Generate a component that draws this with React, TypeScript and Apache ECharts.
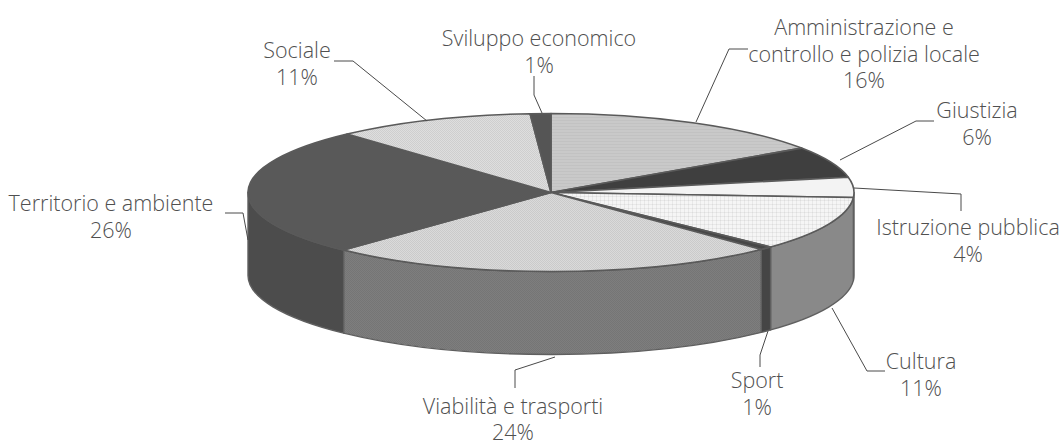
import React, { useEffect, useRef } from "react";
import * as echarts from "echarts";

const categories = [
  "Amministrazione e\ncontrollo e polizia locale",
  "Giustizia",
  "Istruzione pubblica",
  "Cultura",
  "Sport",
  "Viabilità e trasporti",
  "Territorio e ambiente",
  "Sociale",
  "Sviluppo economico",
];
const shares = [15.5, 6.4, 4.1, 11.1, 0.7, 24.2, 26.25, 10.65, 1.1];

// styles, one per slice
const topColors = ["#c9c9c9", "#3f3f3f", "#f3f3f3", "#f5f5f5", "#474747", "#dadada", "#595959", "#dedede", "#555555"];
const sideColors = ["#999999", "#333333", "#8a8a8a", "#898989", "#454545", "#7e7e7e", "#4c4c4c", "#999999", "#444444"];
const topPatterns = ["hlines", "", "", "grid", "", "dither", "", "dither", ""];
const sidePatterns = ["", "", "", "", "", "dither", "", "", ""];

// label layout, one per slice: centre of the text block, then its leader line
const labelCentres = [
  [864, 53], [977, 123], [968, 240], [921, 374], [757, 393],
  [513, 418.5], [111, 216], [297, 63], [539, 51],
];
const leaders = [
  [[696, 122], [729, 49], [748, 49]],
  [[840, 160], [916, 121], [934, 121]],
  [[854, 188], [961, 194], [961, 211]],
  [[832, 308], [867, 371], [885, 371]],
  [[768, 331], [760, 355], [760, 367]],
  [[555, 357], [515, 370], [515, 388]],
  [[248, 240], [243, 213], [225, 213]],
  [[427, 121], [353, 61], [334, 61]],
  [[542, 113], [534, 95], [534, 76]],
];

const CX = 551;
const CY = 192.5;
const RX = 303;
const RY = 79;
const DEPTH = 83;
const LINE_STEP = 26.5;
const TEXT_FONT = "'Open Sans'";

function makePattern(kind: string, base: string) {
  const size = kind === "dither" ? 2 : kind === "grid" ? 4 : 3;
  const c = document.createElement("canvas");
  c.width = size;
  c.height = size;
  const g = c.getContext("2d")!;
  g.fillStyle = base;
  g.fillRect(0, 0, size, size);
  if (kind === "dither") {
    g.fillStyle = "rgba(0,0,0,0.07)";
    g.fillRect(0, 0, 1, 1);
    g.fillRect(1, 1, 1, 1);
  } else if (kind === "grid") {
    g.fillStyle = "rgba(0,0,0,0.05)";
    g.fillRect(0, 0, size, 1);
    g.fillRect(0, 0, 1, size);
  } else {
    g.fillStyle = "rgba(0,0,0,0.03)";
    g.fillRect(0, 0, size, 1);
  }
  return { image: c, repeat: "repeat" };
}

function paint(kind: string, base: string): any {
  return kind ? makePattern(kind, base) : base;
}

function rim(a: number, dy = 0) {
  return [CX + RX * Math.sin(a), CY - RY * Math.cos(a) + dy];
}

function topPath(a0: number, a1: number) {
  const p0 = rim(a0);
  const p1 = rim(a1);
  const large = a1 - a0 > Math.PI ? 1 : 0;
  return `M${CX} ${CY}L${p0[0]} ${p0[1]}A${RX} ${RY} 0 ${large} 1 ${p1[0]} ${p1[1]}Z`;
}

function sidePath(a0: number, a1: number) {
  const p0 = rim(a0);
  const p1 = rim(a1);
  const q0 = rim(a0, DEPTH);
  const q1 = rim(a1, DEPTH);
  return (
    `M${p0[0]} ${p0[1]}A${RX} ${RY} 0 0 1 ${p1[0]} ${p1[1]}` +
    `L${q1[0]} ${q1[1]}A${RX} ${RY} 0 0 0 ${q0[0]} ${q0[1]}Z`
  );
}

export default function App() {
  const ref = useRef<HTMLDivElement>(null);

  useEffect(() => {
    const chart = echarts.init(ref.current!, undefined, { renderer: "svg" });
    const total = shares.reduce((s, v) => s + v, 0);
    const starts: number[] = [];
    let acc = 0;
    shares.forEach((v) => {
      starts.push((acc / total) * Math.PI * 2);
      acc += v;
    });
    const angleEnd = (i: number) => starts[i] + (shares[i] / total) * Math.PI * 2;

    const sideStroke = { stroke: "#5f5f5f", lineWidth: 1.4, lineJoin: "round" };

    const renderSide = (params: any) => {
      const i = params.dataIndex;
      const a0 = Math.max(starts[i], Math.PI / 2);
      const a1 = Math.min(angleEnd(i), (Math.PI * 3) / 2);
      if (a1 <= a0) return { type: "group", children: [] };
      return {
        type: "path",
        shape: { pathData: sidePath(a0, a1) },
        style: { fill: paint(sidePatterns[i], sideColors[i]), ...sideStroke },
      };
    };
    const renderTop = (params: any) => {
      const i = params.dataIndex;
      return {
        type: "path",
        shape: { pathData: topPath(starts[i], angleEnd(i)) },
        style: { fill: paint(topPatterns[i], topColors[i]), stroke: "#5a5a5a", lineWidth: 1.6, lineJoin: "round" },
      };
    };

    const seriesData = categories.map((c, i) => ({ name: c, value: shares[i] }));

    const textElements = categories.flatMap((c, i) => {
      const lines = `${c}\n${Math.round(shares[i])}%`.split("\n");
      return lines.map((line, j) => ({
        type: "text",
        z: 6,
        silent: true,
        x: labelCentres[i][0],
        y: labelCentres[i][1] + (j - (lines.length - 1) / 2) * LINE_STEP,
        style: {
          text: line,
          font: `300 21.5px ${TEXT_FONT}`,
          fill: "#505050",
          align: "center",
          verticalAlign: "middle",
          lineHeight: 15,
        },
      }));
    });

    chart.setOption({
      animation: false,
      backgroundColor: "#ffffff",
      series: [
        { type: "custom", coordinateSystem: "none", renderItem: renderSide, data: seriesData, silent: true, z: 1 },
        { type: "custom", coordinateSystem: "none", renderItem: renderTop, data: seriesData, silent: true, z: 2 },
      ],
      graphic: {
        elements: [
          ...leaders.map((points) => ({
            type: "polyline",
            z: 5,
            silent: true,
            shape: { points },
            style: { stroke: "#4a4a4a", lineWidth: 1, fill: "none" },
          })),
          ...textElements,
        ],
      },
    });
    return () => chart.dispose();
  }, []);

  return <div ref={ref} style={{ position: "absolute", left: 0, top: 0, width: 1062, height: 440 }} />;
}
